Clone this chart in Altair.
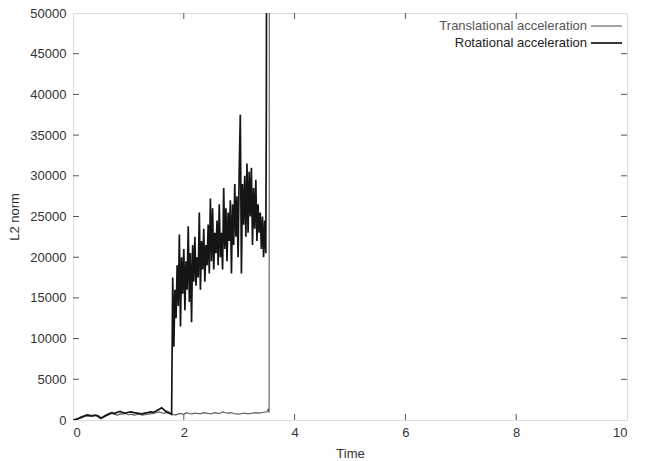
import altair as alt
import pandas as pd

# Translational acceleration (L2 norm) over time
t_trans = [0.0, 0.05, 0.1, 0.15, 0.2, 0.25, 0.3, 0.35, 0.4, 0.45, 0.5, 0.55, 0.6, 0.65,
           0.7, 0.75, 0.8, 0.85, 0.9, 0.95, 1.0, 1.05, 1.1, 1.15, 1.2, 1.25, 1.3, 1.35,
           1.4, 1.45, 1.5, 1.55, 1.6, 1.65, 1.7, 1.75, 1.8, 1.85, 1.9, 1.95, 2.0, 2.05,
           2.1, 2.15, 2.2, 2.25, 2.3, 2.35, 2.4, 2.45, 2.5, 2.55, 2.6, 2.65, 2.7, 2.75,
           2.8, 2.85, 2.9, 2.95, 3.0, 3.05, 3.1, 3.15, 3.2, 3.25, 3.3, 3.35, 3.4, 3.45,
           3.5, 3.52, 3.54, 3.55]
trans = [0, 50, 150, 250, 400, 500, 450, 600, 550, 400, 150, 300, 500, 650,
         800, 700, 600, 750, 700, 800, 650, 700, 600, 650, 700, 600, 650, 700,
         750, 800, 900, 1000, 900, 800, 1100, 900, 700, 600, 750, 800, 700, 900,
         800, 750, 850, 800, 750, 900, 850, 800, 750, 900, 850, 800, 1000, 900,
         850, 900, 800, 750, 700, 800, 850, 750, 800, 850, 900, 850, 900, 950,
         1000, 1300, 900, 150000]

# Rotational acceleration (L2 norm) over time
t_rot = [0.0, 0.05, 0.1, 0.15, 0.2, 0.25, 0.3, 0.35, 0.4, 0.45, 0.5, 0.55, 0.6, 0.65,
         0.7, 0.75, 0.8, 0.85, 0.9, 0.95, 1.0, 1.05, 1.1, 1.15, 1.2, 1.25, 1.3, 1.35,
         1.4, 1.45, 1.5, 1.55, 1.6, 1.65, 1.7, 1.75, 1.78,
         1.80, 1.82, 1.84, 1.86, 1.88, 1.90, 1.92, 1.94, 1.96, 1.98,
         2.00, 2.02, 2.04, 2.06, 2.08, 2.10, 2.12, 2.14, 2.16, 2.18,
         2.20, 2.22, 2.24, 2.26, 2.28, 2.30, 2.32, 2.34, 2.36, 2.38,
         2.40, 2.42, 2.44, 2.46, 2.48, 2.50, 2.52, 2.54, 2.56, 2.58,
         2.60, 2.62, 2.64, 2.66, 2.68, 2.70, 2.72, 2.74, 2.76, 2.78,
         2.80, 2.82, 2.84, 2.86, 2.88, 2.90, 2.92, 2.94, 2.96, 2.98,
         3.00, 3.02, 3.04, 3.06, 3.08, 3.10, 3.12, 3.14, 3.16, 3.18,
         3.20, 3.22, 3.24, 3.26, 3.28, 3.30, 3.32, 3.34, 3.36, 3.38,
         3.40, 3.42, 3.44, 3.46, 3.48, 3.49, 3.50]
rot = [0, 80, 200, 350, 500, 620, 560, 480, 600, 520, 250, 400, 600, 750,
       900, 800, 950, 1050, 900, 850, 950, 1000, 900, 850, 800, 750, 850, 900,
       1000, 950, 1100, 1300, 1500, 1200, 900, 800, 700,
       17500, 9000, 16000, 12500, 19000, 14000, 22800, 11500, 20000, 15500,
       21000, 13500, 19500, 16000, 23800, 14500, 20500, 12000, 21500, 17000,
       22500, 16500, 20000, 17500, 25500, 16000, 22000, 18500, 23500, 17000,
       21500, 19000, 24000, 18000, 27200, 19500, 26000, 18500, 23000, 20500,
       24500, 19000, 26500, 20000, 23000, 18500, 28500, 21000, 26000, 19500,
       25500, 22000, 27000, 18000, 26500, 21500, 29000, 22500, 27500, 20000,
       30500, 37500, 18000, 29000, 24000, 30000, 22500, 31500, 23000, 30500,
       25000, 31000, 21500, 28500, 23500, 29500, 22000, 26500, 23000, 25500,
       21000, 25000, 20000, 24500, 20500, 38300, 95000]

series_names = ["Translational acceleration", "Rotational acceleration"]
series_colors = ["#5a5a5a", "#151515"]
series_widths = [1.1, 1.7]

x_ticks = [0, 2, 4, 6, 8, 10]
y_ticks = [0, 5000, 10000, 15000, 20000, 25000, 30000, 35000, 40000, 45000, 50000]

W, H = 554, 407
FONT = "Liberation Sans"
FS = 13
TXT = "#333333"

df = pd.concat([
    pd.DataFrame({"time": t_trans, "value": trans, "series": series_names[0]}),
    pd.DataFrame({"time": t_rot, "value": rot, "series": series_names[1]}),
])

x_scale = alt.Scale(domain=[0, 10], nice=False)
y_scale = alt.Scale(domain=[0, 50000], nice=False)

x_axis = alt.Axis(values=x_ticks, title="Time", grid=False, domain=False, ticks=False,
                  labelPadding=6, labelFont=FONT, labelFontSize=FS, labelColor=TXT,
                  titleFont=FONT, titleFontSize=FS, titleColor=TXT, titleFontWeight="normal",
                  titlePadding=8)
y_axis = alt.Axis(values=y_ticks, title="L2 norm", grid=False, domain=False, ticks=False,
                  labelPadding=7, labelFont=FONT, labelFontSize=FS, labelColor=TXT,
                  titleFont=FONT, titleFontSize=FS, titleColor=TXT, titleFontWeight="normal",
                  titlePadding=8, format="d")

lines = alt.Chart(df).mark_line(clip=True, interpolate="linear").encode(
    x=alt.X("time:Q", scale=x_scale, axis=x_axis),
    y=alt.Y("value:Q", scale=y_scale, axis=y_axis),
    color=alt.Color("series:N", scale=alt.Scale(domain=series_names, range=series_colors), legend=None),
    strokeWidth=alt.StrokeWidth("series:N", scale=alt.Scale(domain=series_names, range=series_widths), legend=None),
    detail="series:N",
)

xt = pd.DataFrame({"t": x_ticks[1:-1]})
yt = pd.DataFrame({"v": y_ticks[1:-1]})
tick_len = 6
tick_style = dict(color="#555555", strokeWidth=1)

x_bottom = alt.Chart(xt).mark_rule(**tick_style).encode(
    x=alt.X("t:Q", scale=x_scale), y=alt.value(H), y2=alt.value(H - tick_len))
x_top = alt.Chart(xt).mark_rule(**tick_style).encode(
    x=alt.X("t:Q", scale=x_scale), y=alt.value(0), y2=alt.value(tick_len))
y_left = alt.Chart(yt).mark_rule(**tick_style).encode(
    y=alt.Y("v:Q", scale=y_scale), x=alt.value(0), x2=alt.value(tick_len))
y_right = alt.Chart(yt).mark_rule(**tick_style).encode(
    y=alt.Y("v:Q", scale=y_scale), x=alt.value(W - tick_len), x2=alt.value(W))

# Key in the top-right corner: label on the left, line sample on the right
key_layers = []
for i, (name, col, sw) in enumerate(zip(series_names, series_colors, series_widths)):
    yy = 13 + i * 17
    key_layers.append(
        alt.Chart(pd.DataFrame({"label": [name]})).mark_text(
            align="right", baseline="middle", font=FONT, fontSize=FS,
            color="#555555" if i == 0 else "#222222"
        ).encode(text="label:N", x=alt.value(514), y=alt.value(yy))
    )
    key_layers.append(
        alt.Chart(pd.DataFrame({"label": [name]})).mark_rule(color=col, strokeWidth=sw).encode(
            x=alt.value(518), x2=alt.value(549), y=alt.value(yy))
    )

chart = alt.layer(lines, x_bottom, x_top, y_left, y_right, *key_layers).properties(
    width=W, height=H,
    autosize=alt.AutoSizeParams(type="none"),
    padding={"left": 73, "top": 13, "right": 18, "bottom": 41},
).configure_view(stroke="#666666", strokeWidth=1.3).configure(background="white")

chart.save("out.html", embed_options={"renderer": "svg", "actions": False})
